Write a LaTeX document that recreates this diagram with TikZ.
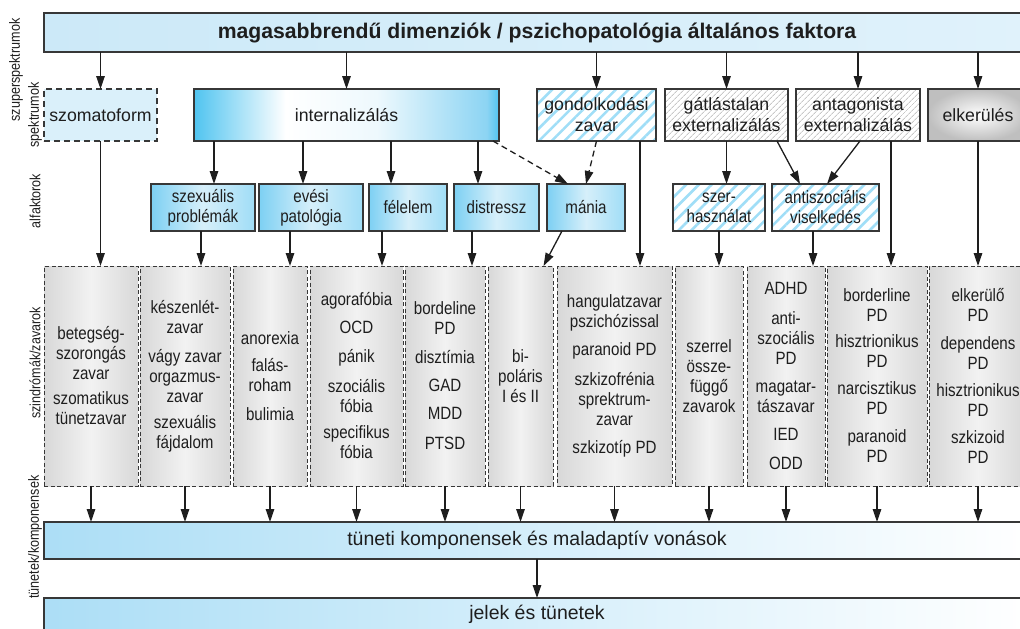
\documentclass[tikz,border=0pt]{standalone}
\usepackage{fontspec}
\setmainfont{Liberation Sans}
\newfontfamily\condfont{Liberation Sans}[FakeStretch=0.85]
\usetikzlibrary{arrows.meta,patterns.meta}

\definecolor{txt}{RGB}{30,30,30}
\definecolor{bord}{RGB}{55,55,55}
\definecolor{topL}{RGB}{204,233,248}
\definecolor{topR}{RGB}{224,242,251}
\definecolor{szomfill}{RGB}{218,240,250}
\definecolor{cyanA}{RGB}{80,196,240}
\definecolor{cyanB}{RGB}{140,212,243}
\definecolor{alfL}{RGB}{125,208,243}
\definecolor{alfM}{RGB}{214,239,250}
\definecolor{alfR}{RGB}{160,221,246}
\definecolor{hatchB}{RGB}{160,222,247}
\definecolor{hatchG}{RGB}{200,200,200}
\definecolor{colE}{RGB}{216,216,216}
\definecolor{colM}{RGB}{242,242,242}
\definecolor{barL}{RGB}{172,222,246}

% spectrum box: strong cyan on the left, white in the middle, cyan on the right
\pgfdeclarehorizontalshading{intshade}{100bp}{color(0bp)=(cyanA); color(25bp)=(cyanA); color(40bp)=(white); color(55bp)=(white!85!cyanB); color(73bp)=(cyanB); color(75bp)=(cyanA); color(100bp)=(cyanA)}
% subfactor boxes
\pgfdeclarehorizontalshading{alfshade}{100bp}{color(0bp)=(alfL); color(25bp)=(alfL); color(50bp)=(alfM); color(75bp)=(alfR); color(100bp)=(alfR)}
% syndrome columns
\pgfdeclarehorizontalshading{colshade}{100bp}{color(0bp)=(colE); color(25bp)=(colE); color(50bp)=(colM); color(75bp)=(colE); color(100bp)=(colE)}

\begin{document}
\begin{tikzpicture}[x=1pt,y=-1pt,
  every node/.style={inner sep=0pt, outer sep=0pt, text=txt, anchor=center},
  box/.style={draw=bord, line width=1.5pt},
  specbox/.style={box, minimum height=52pt, align=center, font=\fontsize{17.7}{21}\selectfont},
  alfbox/.style={box, minimum height=47pt, align=center, font=\condfont\fontsize{17.8}{20}\selectfont},
  alfcyan/.style={alfbox, shading=alfshade},
  hatchblue/.style={preaction={fill=white}, pattern={Lines[angle=45,distance=9pt,line width=2.6pt]}, pattern color=hatchB},
  hatchgray/.style={preaction={fill=white}, pattern={Lines[angle=45,distance=4pt,line width=0.9pt]}, pattern color=hatchG},
  colbox/.style={draw=bord, line width=1pt, dash pattern=on 4pt off 2.5pt, shading=colshade,
    minimum height=220pt, align=center, font=\condfont\fontsize{17.8}{20}\selectfont},
  barbox/.style={box, left color=barL, right color=white, font=\fontsize{19.5}{22}\selectfont},
  side/.style={rotate=90, font=\condfont\fontsize{14.8}{17}\selectfont},
  arr/.style={draw=txt, line width=1.3pt, -{Triangle[length=13pt,width=8.5pt]}},
  darr/.style={arr, dash pattern=on 6pt off 4pt}
]
\useasboundingbox (0,0) rectangle (1020,629);
\clip (0,0) rectangle (1020,629);

% level labels
\node[side] (lsuper) at (16,70) {szuperspektrumok};
\node[side] (lspec) at (35,115) {spektrumok};
\node[side] (lalf) at (35,201) {alfaktorok};
\node[side] (lsynd) at (35,363) {szindrómák/zavarok};
\node[side] (lsymp) at (35,537) {tünetek/komponensek};

% general factor
\node[box, left color=topL, right color=topR, minimum width=986pt, minimum height=39pt,
  font=\bfseries\fontsize{21.2}{24}\selectfont] (top) at (537,32.5)
  {magasabbrendű dimenziók / pszichopatológia általános faktora};

% spectra
\node[specbox, draw=bord, fill=szomfill, dash pattern=on 6pt off 4pt, minimum width=113pt] (szom) at (100.5,115) {szomatoform};
\node[specbox, shading=intshade, minimum width=305pt] (intern) at (346.5,115) {internalizálás};
\node[specbox, hatchblue, minimum width=119pt] (gond) at (596.5,115) {gondolkodási\\zavar};
\node[specbox, hatchgray, minimum width=123pt] (gatl) at (726.5,115) {gátlástalan\\externalizálás};
\node[specbox, hatchgray, minimum width=124pt] (antag) at (858,115) {antagonista\\externalizálás};
\node[specbox, inner color=white, outer color=black!25, minimum width=100pt] (elker) at (978,115) {elkerülés};

% subfactors
\node[alfcyan, minimum width=104pt] (szex) at (203,207.5) {szexuális\\problémák};
\node[alfcyan, minimum width=104pt] (evesi) at (311,207.5) {evési\\patológia};
\node[alfcyan, minimum width=78pt] (felelem) at (408,207.5) {félelem};
\node[alfcyan, minimum width=85pt] (distr) at (496.5,207.5) {distressz};
\node[alfcyan, minimum width=78pt] (mania) at (586,207.5) {mánia};
\node[alfbox, hatchblue, minimum width=92pt] (szer) at (719,207.5) {szer-\\használat};
\node[alfbox, hatchblue, minimum width=107pt] (antisz) at (825.5,207.5) {antiszociális\\viselkedés};

% syndromes / disorders
\node[colbox, minimum width=94pt] (c1) at (91,376) {betegség-\\szorongás\\zavar\\[5pt]szomatikus\\tünetzavar};
\node[colbox, minimum width=90pt] (c2) at (185,376) {készenlét-\\zavar\\[9pt]vágy zavar\\orgazmus-\\zavar\\[6pt]szexuális\\fájdalom};
\node[colbox, minimum width=74pt] (c3) at (270,376) {anorexia\\[7pt]falás-\\roham\\[9pt]bulimia};
\node[colbox, minimum width=93pt] (c4) at (356.5,376) {agorafóbia\\[8pt]OCD\\[9pt]pánik\\[10pt]szociális\\fóbia\\[6pt]specifikus\\fóbia};
\node[colbox, minimum width=80pt] (c5) at (445,376) {bordeline\\PD\\[9pt]disztímia\\[8pt]GAD\\[8pt]MDD\\[10pt]PTSD};
\node[colbox, minimum width=65pt] (c6) at (520.5,376) {bi-\\poláris\\I és II};
\node[colbox, minimum width=115pt] (c7) at (614.5,376) {hangulatzavar\\pszichózissal\\[8pt]paranoid PD\\[10pt]szkizofrénia\\sprektrum-\\zavar\\[8pt]szkizotíp PD};
\node[colbox, minimum width=68pt] (c8) at (709,376) {szerrel\\össze-\\függő\\zavarok};
\node[colbox, minimum width=78pt] (c9) at (786,376) {ADHD\\[10pt]anti-\\szociális\\PD\\[8pt]magatar-\\tászavar\\[8pt]IED\\[9pt]ODD};
\node[colbox, minimum width=100pt] (c10) at (877,376) {borderline\\PD\\[6pt]hisztrionikus\\PD\\[7pt]narcisztikus\\PD\\[8pt]paranoid\\PD};
\node[colbox, minimum width=98pt] (c11) at (978,376) {elkerülő\\PD\\[8pt]dependens\\PD\\[7pt]hisztrionikus\\PD\\[7pt]szkizoid\\PD};

% symptom level bars
\node[barbox, minimum width=986pt, minimum height=37pt] (bar1) at (537,540.5) {tüneti komponensek és maladaptív vonások};
\node[barbox, minimum width=986pt, minimum height=33pt] (bar2) at (537,614.5) {jelek és tünetek};

% general factor -> spectra
\foreach \n in {szom,intern,gond,gatl,antag,elker}
  \draw[arr] (\n.north |- top.south) -- (\n.north);

% spectra -> subfactors
\coordinate (i1) at ([xshift=11pt]szex.north);
\coordinate (i2) at ([xshift=-8pt]evesi.north);
\coordinate (i3) at ([xshift=-17pt]felelem.north);
\coordinate (i4) at ([xshift=-18.5pt]distr.north);
\foreach \c in {i1,i2,i3,i4}
  \draw[arr] (\c |- intern.south) -- (\c);
\draw[darr] ([xshift=-6pt]intern.south east) -- ([xshift=-18pt]mania.north);
\draw[darr] (gond.south) -- (mania.north);
\draw[arr] (gatl.south) -- (gatl.south |- szer.north);
\draw[arr] ([xshift=50.5pt]gatl.south) -- ([xshift=-25.5pt]antisz.north);
\draw[arr] ([xshift=2pt]antag.south) -- ([xshift=1.5pt]antisz.north);

% spectra / subfactors -> syndromes
\coordinate (s2) at ([xshift=-2pt]szex.south);
\coordinate (s3) at ([xshift=-21pt]evesi.south);
\coordinate (s4) at ([xshift=-26pt]felelem.south);
\coordinate (s5) at ([xshift=-24.5pt]distr.south);
\coordinate (s7) at ([xshift=43.5pt]gond.south);
\coordinate (s9) at ([xshift=-12.5pt]antisz.south);
\coordinate (s10) at ([xshift=33pt]antag.south);
\draw[arr] (szom.south) -- (szom.south |- c1.north);
\draw[arr] (s2) -- (s2 |- c2.north);
\draw[arr] (s3) -- (s3 |- c3.north);
\draw[arr] (s4) -- (s4 |- c4.north);
\draw[arr] (s5) -- (s5 |- c5.north);
\draw[arr] ([xshift=-24pt]mania.south) -- ([xshift=23pt]c6.north);
\draw[arr] (s7) -- (s7 |- c7.north);
\draw[arr] (szer.south) -- (szer.south |- c8.north);
\draw[arr] (s9) -- (s9 |- c9.north);
\draw[arr] (s10) -- (s10 |- c10.north);
\draw[arr] (elker.south) -- (elker.south |- c11.north);

% syndromes -> symptom components -> signs
\foreach \c in {c1,c2,c3,c4,c5,c6,c7,c8,c9,c10,c11}
  \draw[arr] (\c.south) -- (\c.south |- bar1.north);
\draw[arr] (bar1.south) -- (bar1.south |- bar2.north);
\end{tikzpicture}
\end{document}
